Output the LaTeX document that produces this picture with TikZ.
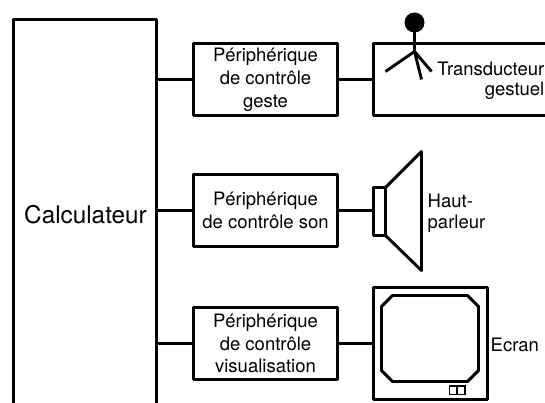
\documentclass[tikz,border=0pt]{standalone}
\usepackage{fontspec}
\setmainfont{TeX Gyre Heros}
\tikzset{
  every picture/.style={x=1pt,y=-1pt},
  ln/.style={line width=2.9pt,black,line join=round},
  wire/.style={line width=2.5pt,black},
  devbox/.style={draw,line width=2.9pt,minimum width=144pt,minimum height=72pt,inner sep=0pt,align=center,font=\fontsize{18.5}{22.8}\selectfont,line join=round},
  lab/.style={inner sep=0pt,font=\fontsize{18.5}{22.8}\selectfont}
}
\begin{document}
\begin{tikzpicture}
\useasboundingbox (0,0) rectangle (545,403);
\begin{scope}[shift={(0.5,0.5)}]
\draw[ln] (13,404) -- (13,19) -- (156,19) -- (156,404);
\node[lab,font=\fontsize{24.3}{28}\selectfont] (calc) at (85,214) {Calculateur};
\coordinate (c1) at (156,79);
\coordinate (c2) at (156,210);
\coordinate (c3) at (156,343);
\node[devbox] (p1) at (265,79) {Périphérique\\de contrôle\\geste};
\node[devbox] (p2) at (265,210) {Périphérique\\de contrôle son};
\node[devbox] (p3) at (265,343) {Périphérique\\de contrôle\\visualisation};
\coordinate (t1) at (373,79);
\coordinate (s1) at (373,210);
\coordinate (e1) at (373,343);
\draw[wire] (c1) -- (p1.west) (p1.east) -- (t1);
\draw[wire] (c2) -- (p2.west) (p2.east) -- (s1);
\draw[wire] (c3) -- (p3.west) (p3.east) -- (e1);
% transducer
\draw[ln] (546,43) -- (373,43) -- (373,115) -- (546,115);
\fill (414,22) circle (10);
\draw[ln] (414,22) -- (414,51) -- (385,71);
\draw[ln] (414,51) -- (431,71);
\draw[ln] (414,51) -- (421,79);
\node[lab,anchor=east] (t) at (544,68) {Transducteur};
\node[lab,anchor=east] (g) at (544,90) {gestuel};
% speaker
\draw[ln] (373,187) rectangle (385,235);
\draw[ln] (385,187) -- (421,151) -- (421,270) -- (385,235);
\node[lab,anchor=west] (h) at (427,200) {Haut-};
\node[lab,anchor=west] (pa) at (427,223) {parleur};
% screen
\draw[ln] (373,287) rectangle (487,399);
\draw[ln] (392,295) -- (467,295) -- (478,306) -- (478,370) -- (467,381) -- (392,381) -- (381,370) -- (381,306) -- cycle;
\draw[line width=1.1pt] (449,385.5) rectangle (456.5,394) (456.5,385.5) rectangle (464.5,394);
\node[lab,anchor=west] (ec) at (490,344) {Ecran};
\end{scope}
\end{tikzpicture}
\end{document}
